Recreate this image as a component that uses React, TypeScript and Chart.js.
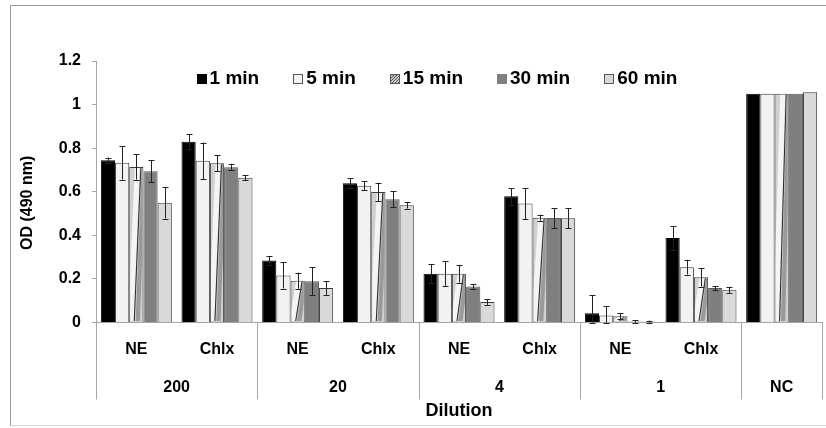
import React, { useEffect, useRef } from 'react';
import { Chart, registerables } from 'chart.js';

Chart.register(...registerables);

// ---------- data ----------
const categories = ['NE', 'Chlx', 'NE', 'Chlx', 'NE', 'Chlx', 'NE', 'Chlx', ''];
const groupLabels = ['200', '20', '4', '1', 'NC'];
const groupSpans: number[][] = [[0, 1], [2, 3], [4, 5], [6, 7], [8, 8]];
const seriesNames = ['1 min', '5 min', '15 min', '30 min', '60 min'];

const min1 = [0.745, 0.829, 0.285, 0.639, 0.224, 0.579, 0.043, 0.388, 1.05];
const min5 = [0.733, 0.742, 0.216, 0.628, 0.224, 0.546, 0.032, 0.254, 1.05];
const min15 = [0.714, 0.731, 0.192, 0.599, 0.224, 0.481, 0.029, 0.208, 1.05];
const min30 = [0.694, 0.713, 0.189, 0.566, 0.165, 0.479, 0.005, 0.158, 1.05];
const min60 = [0.549, 0.664, 0.158, 0.538, 0.094, 0.478, 0.003, 0.15, 1.057];

const err1 = [0.012, 0.034, 0.02, 0.024, 0.043, 0.038, 0.081, 0.054, 0];
const err5 = [0.077, 0.084, 0.06, 0.02, 0.058, 0.072, 0.042, 0.034, 0];
const err15 = [0.058, 0.037, 0.037, 0.043, 0.041, 0.014, 0.014, 0.043, 0];
const err30 = [0.05, 0.015, 0.065, 0.037, 0.012, 0.046, 0.005, 0.009, 0];
const err60 = [0.072, 0.012, 0.031, 0.015, 0.013, 0.046, 0.006, 0.014, 0];

const yMin = 0;
const yMax = 1.2;
const yStep = 0.2;

const seriesValues = [min1, min5, min15, min30, min60];
const seriesErrors = [err1, err5, err15, err30, err60];

// ---------- styles ----------
const FONT = '"Liberation Sans", Arial, Helvetica, sans-serif';
const fills = ['#000000', '#f2f2f2', '#d0d0d0', '#7f7f7f', '#d9d9d9'];
const borders = ['#000000', '#3c3c3c', '#3c3c3c', '#5a5a5a', '#3c3c3c'];
const AXIS_GRAY = '#a6a6a6';

function drawStripes(ctx: CanvasRenderingContext2D, L: number, T: number, w: number, B: number) {
  const h = B - T;
  if (h <= 2) return;
  ctx.save();
  ctx.beginPath();
  ctx.rect(L + 1, T + 1, w - 2, h - 2);
  ctx.clip();
  const poly = (pts: number[][], color: string) => {
    ctx.beginPath();
    ctx.moveTo(pts[0][0], pts[0][1]);
    for (let i = 1; i < pts.length; i++) ctx.lineTo(pts[i][0], pts[i][1]);
    ctx.closePath();
    ctx.fillStyle = color;
    ctx.fill();
  };
  // white band
  poly([[L - 0.1 * w, B], [L + 0.3 * w, B], [L + 0.75 * w, T], [L + 0.4 * w, T]], '#f4f4f4');
  // gray band
  poly([[L + 0.45 * w, B], [L + 0.75 * w, B], [L + 1.15 * w, T], [L + 0.88 * w, T]], '#9a9a9a');
  // dark line
  ctx.beginPath();
  ctx.moveTo(L + 0.35 * w, B);
  ctx.lineTo(L + 0.82 * w, T);
  ctx.strokeStyle = '#2a2a2a';
  ctx.lineWidth = 1;
  ctx.stroke();
  ctx.restore();
}

const decoPlugin = {
  id: 'deco',
  afterDatasetsDraw(chart: any) {
    const ctx: CanvasRenderingContext2D = chart.ctx;
    const yScale = chart.scales.y;
    // stretched hatch for 15 min bars
    const meta15 = chart.getDatasetMeta(2);
    meta15.data.forEach((bar: any) => {
      const p = bar.getProps(['x', 'y', 'base', 'width'], true);
      drawStripes(ctx, p.x - p.width / 2, p.y, p.width, p.base);
    });
    // error bars
    ctx.save();
    ctx.strokeStyle = '#222222';
    ctx.lineWidth = 1;
    seriesErrors.forEach((errs, di) => {
      const meta = chart.getDatasetMeta(di);
      meta.data.forEach((bar: any, i: number) => {
        const e = errs[i];
        if (!e) return;
        const v = seriesValues[di][i];
        const px = Math.round(bar.x) + 0.5;
        const yt = yScale.getPixelForValue(v + e);
        const yb = yScale.getPixelForValue(Math.max(0, v - e));
        ctx.beginPath();
        ctx.moveTo(px, yt);
        ctx.lineTo(px, yb);
        ctx.moveTo(px - 3, Math.round(yt) + 0.5);
        ctx.lineTo(px + 3, Math.round(yt) + 0.5);
        ctx.moveTo(px - 3, Math.round(yb) + 0.5);
        ctx.lineTo(px + 3, Math.round(yb) + 0.5);
        ctx.stroke();
      });
    });
    ctx.restore();
  },
  afterDraw(chart: any) {
    const ctx: CanvasRenderingContext2D = chart.ctx;
    const xs = chart.scales.x;
    const area = chart.chartArea;
    // separators
    const bounds: number[] = [area.left];
    for (let g = 0; g < groupSpans.length - 1; g++) {
      const a = groupSpans[g][1];
      bounds.push((xs.getPixelForValue(a) + xs.getPixelForValue(a + 1)) / 2);
    }
    bounds.push(area.right);
    ctx.save();
    ctx.strokeStyle = AXIS_GRAY;
    ctx.lineWidth = 1;
    bounds.forEach((bx) => {
      const xx = Math.round(bx) + 0.5;
      ctx.beginPath();
      ctx.moveTo(xx, area.bottom);
      ctx.lineTo(xx, area.bottom + 77);
      ctx.stroke();
    });
    // group labels
    ctx.fillStyle = '#000';
    ctx.font = `bold 16px ${FONT}`;
    ctx.textAlign = 'center';
    ctx.textBaseline = 'middle';
    groupLabels.forEach((lab, g) => {
      const [a, b] = groupSpans[g];
      const cx = (xs.getPixelForValue(a) + xs.getPixelForValue(b)) / 2;
      ctx.fillText(lab, cx, area.bottom + 65);
    });
    // legend
    ctx.font = `bold 19px ${FONT}`;
    ctx.textAlign = 'left';
    const boxW = 10;
    const gapBox = 3;
    const gapItem = 34;
    const widths = seriesNames.map((n) => ctx.measureText(n).width);
    const total = widths.reduce((s, w) => s + boxW + gapBox + w, 0) + gapItem * (seriesNames.length - 1);
    let lx = 437 - total / 2;
    const ly = 79;
    seriesNames.forEach((name, i) => {
      const bx = Math.round(lx) + 0.5;
      const by = ly - 5 + 0.5;
      ctx.fillStyle = fills[i];
      ctx.fillRect(bx, by, boxW - 1, boxW - 1);
      if (i === 2) {
        ctx.fillStyle = '#ffffff';
        ctx.fillRect(bx, by, boxW - 1, boxW - 1);
        ctx.save();
        ctx.beginPath();
        ctx.rect(bx, by, boxW - 1, boxW - 1);
        ctx.clip();
        ctx.strokeStyle = '#555';
        ctx.lineWidth = 1.2;
        for (let k = -12; k < 12; k += 3) {
          ctx.beginPath();
          ctx.moveTo(bx + k, by + boxW);
          ctx.lineTo(bx + k + boxW, by);
          ctx.stroke();
        }
        ctx.restore();
      }
      ctx.strokeStyle = i === 0 ? '#000' : i === 3 ? '#7f7f7f' : '#555';
      ctx.lineWidth = 1;
      ctx.strokeRect(bx, by, boxW - 1, boxW - 1);
      ctx.fillStyle = '#000';
      ctx.fillText(name, lx + boxW + gapBox, ly);
      lx += boxW + gapBox + widths[i] + gapItem;
    });
    ctx.restore();
  },
};

export default function App() {
  const canvasRef = useRef<HTMLCanvasElement | null>(null);

  useEffect(() => {
    const canvas = canvasRef.current;
    if (!canvas) return;
    const chart = new Chart(canvas, {
      type: 'bar',
      data: {
        labels: categories,
        datasets: seriesNames.map((name, i) => ({
          label: name,
          data: seriesValues[i],
          backgroundColor: fills[i],
          borderColor: borders[i],
          borderWidth: 1,
          categoryPercentage: 0.88,
          barPercentage: 1.0,
        })),
      },
      options: {
        responsive: false,
        animation: false,
        devicePixelRatio: 1,
        layout: { padding: { top: 61, right: 4, left: 0, bottom: 0 } },
        plugins: {
          legend: { display: false },
          tooltip: { enabled: false },
        },
        scales: {
          x: {
            ticks: {
              autoSkip: false,
              maxRotation: 0,
              padding: 17,
              color: '#000',
              font: { family: FONT, size: 16, weight: 'bold' },
            },
            grid: { drawOnChartArea: false, drawTicks: false },
            border: { color: AXIS_GRAY },
            title: {
              display: true,
              text: 'Dilution',
              color: '#000',
              font: { family: FONT, size: 18, weight: 'bold' },
              padding: { top: 0, bottom: 6 },
            },
            afterFit(scale: any) {
              scale.height = 105.5;
            },
          },
          y: {
            min: yMin,
            max: yMax,
            ticks: {
              stepSize: yStep,
              padding: 11,
              color: '#000',
              font: { family: FONT, size: 16, weight: 'bold' },
              callback: (v: any) => String(parseFloat(Number(v).toFixed(2))),
            },
            grid: { drawOnChartArea: false, drawTicks: true, tickLength: 4, color: AXIS_GRAY },
            border: { color: AXIS_GRAY },
            title: {
              display: true,
              text: 'OD (490 nm)     ',
              color: '#000',
              font: { family: FONT, size: 16, weight: 'bold' },
              padding: { top: 18, bottom: 0 },
            },
            afterFit(scale: any) {
              scale.width = 96;
            },
          },
        },
      },
      plugins: [decoPlugin],
    } as any);
    return () => chart.destroy();
  }, []);

  return (
    <div style={{ position: 'fixed', left: 0, top: 0, width: 826, height: 428, background: '#fff', overflow: 'hidden' }}>
      <div
        style={{
          position: 'absolute',
          left: 10,
          top: 5,
          width: 840,
          height: 421,
          borderTop: '1px solid #9a9a9a',
          borderLeft: '1px solid #9a9a9a',
          borderBottom: '1px solid #d6d6d6',
          boxSizing: 'border-box',
        }}
      />
      <canvas ref={canvasRef} width={826} height={428} style={{ position: 'absolute', left: 0, top: 0, display: 'block' }} />
    </div>
  );
}
